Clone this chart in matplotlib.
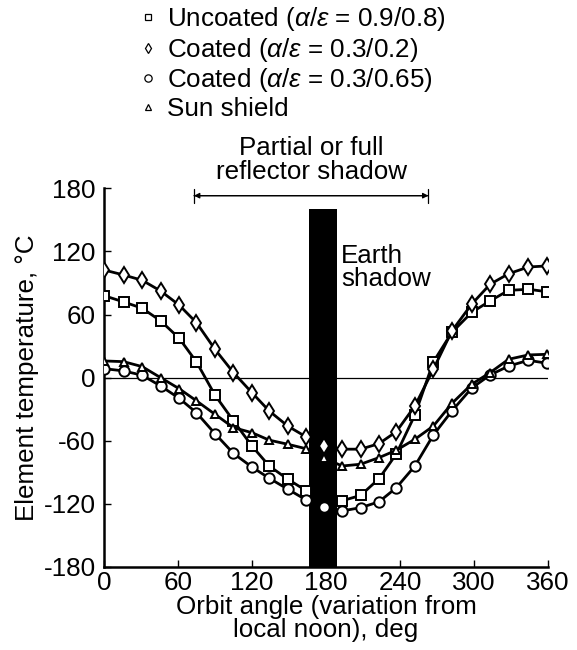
import matplotlib

matplotlib.use("Agg")
import matplotlib.pyplot as plt
import numpy as np
from matplotlib.lines import Line2D

# orbit angle of each plotted point, deg
angles = np.array([0, 16, 31, 46, 61, 75, 90, 105, 120, 134, 149, 164, 178,
                   193, 208, 223, 237, 252, 267, 282, 298, 313, 328, 344, 359])

# element temperatures, deg C
uncoated = np.array([78, 72, 66, 54, 37.5, 15, -16.5, -41, -65, -84, -96.5, -107.5, np.nan,
                     -117, -112, -96, -72.5, -35.5, 15, 43, 62, 73, 83, 84, 81.7])
coated_02 = np.array([102.4, 97.6, 92.6, 82.4, 69, 52.3, 27, 4.8, -14.3, -31.7, -46, -56.4, -65,
                      -68, -68, -62.7, -51.3, -27, 8, 44.4, 69.8, 88.8, 98.8, 105.2, 106.2])
coated_065 = np.array([8.6, 6.4, 2.3, -7.9, -19.6, -33.3, -53.2, -72, -85, -95.6, -106, -116.3, -123,
                       -126.7, -123.6, -118, -104.6, -84, -54.5, -31.7, -10, 2.6, 11, 16.5, 13.7])
sun_shield = np.array([15.9, 15.2, 10.5, 0, -10.5, -22, -34.8, -47.5, -52.3, -59.4, -63.3, -67.6, -76,
                       -84, -82.3, -76, -69, -58.6, -46, -24.5, -6.3, 4.8, 17.5, 21.6, 22.2])

series_labels = [
    r"Uncoated ($\alpha/\varepsilon$ = 0.9/0.8)",
    r"Coated ($\alpha/\varepsilon$ = 0.3/0.2)",
    r"Coated ($\alpha/\varepsilon$ = 0.3/0.65)",
    "Sun shield",
]

# shaded regions
earth_shadow = (166, 189)
earth_shadow_top = 160
reflector_shadow = (73, 263)

x_ticks = np.arange(0, 361, 60)
y_ticks = np.arange(-180, 181, 60)

plt.rcParams["font.family"] = ["Liberation Sans", "DejaVu Sans"]
plt.rcParams["mathtext.fontset"] = "custom"
plt.rcParams["mathtext.rm"] = "Liberation Sans"
plt.rcParams["mathtext.it"] = "Liberation Sans:italic"
plt.rcParams["axes.unicode_minus"] = False
FS = 18.7

fig = plt.figure(figsize=(5.77, 6.5), dpi=100)
ax = fig.add_axes([0.180, 0.1277, 0.770, 0.5826])

ax.bar(earth_shadow[0], earth_shadow_top + 180, bottom=-180,
       width=earth_shadow[1] - earth_shadow[0], align="edge", color="black", zorder=1)
ax.axhline(0, color="black", lw=0.9, zorder=0)

styles = [
    dict(marker="s", ms=6.5),
    dict(marker="d", ms=8),
    dict(marker="o", ms=7.5),
    dict(marker="^", ms=6),
]
for values, style in zip([uncoated, coated_02, coated_065, sun_shield], styles):
    mask = ~np.isnan(values)
    ax.plot(angles[mask], values[mask], color="black", lw=2.0, mfc="white",
            mec="black", mew=1.4, zorder=3, **style)

# partial or full reflector shadow span
ax.annotate("", xy=(reflector_shadow[0], 173), xytext=(reflector_shadow[1], 173),
            arrowprops=dict(arrowstyle="<|-|>", color="black", lw=0.9,
                            mutation_scale=8, shrinkA=0, shrinkB=0))
ax.annotate("", xy=(reflector_shadow[0], 173), xytext=(reflector_shadow[1], 173),
            arrowprops=dict(arrowstyle="|-|", color="black", lw=0.9,
                            mutation_scale=5, shrinkA=0, shrinkB=0))
ax.text(sum(reflector_shadow) / 2, 207, "Partial or full\nreflector shadow",
        ha="center", va="center", fontsize=FS, linespacing=1.0, clip_on=False)
ax.text(earth_shadow[1] + 3, 105, "Earth\nshadow", ha="left", va="center",
        fontsize=FS, linespacing=0.95)

ax.set_xlim(0, 360)
ax.set_ylim(-180, 180)
ax.set_xticks(x_ticks)
ax.set_yticks(y_ticks)
ax.tick_params(direction="in", length=5, width=1, labelsize=FS)
ax.tick_params(axis="x", pad=3)
ax.tick_params(axis="y", pad=6)
for side in ("top", "right"):
    ax.spines[side].set_visible(False)
for side in ("left", "bottom"):
    ax.spines[side].set_linewidth(1.8)
ax.set_xlabel("Orbit angle (variation from\nlocal noon), deg", fontsize=FS,
              linespacing=0.95, labelpad=0)
ax.set_ylabel("Element temperature, \u00b0C", fontsize=FS, labelpad=3)

handles = [Line2D([], [], ls="none", color="black", mfc="white", mew=0.9,
                  marker=s["marker"], ms=s["ms"] * 0.7) for s in styles]
fig.legend(handles, series_labels, loc="upper left", bbox_to_anchor=(0.22, 1.012),
           frameon=False, fontsize=FS, handlelength=0.6, handletextpad=0.45,
           labelspacing=0.1, borderpad=0.0)

fig.savefig("out.png", dpi=100)
